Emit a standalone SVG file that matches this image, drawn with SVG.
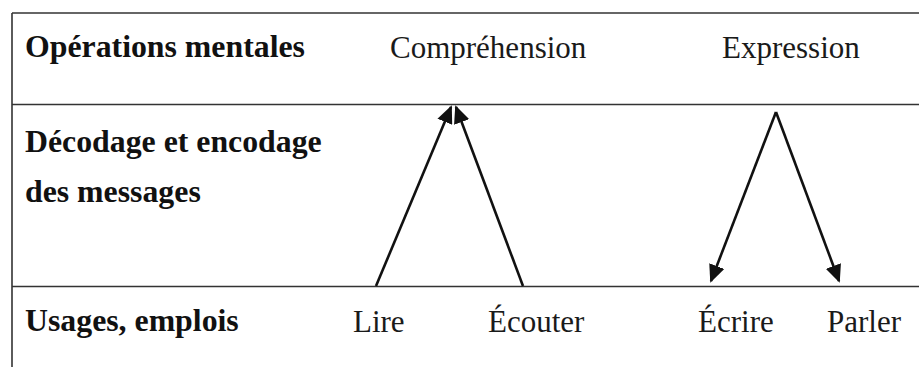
<svg xmlns="http://www.w3.org/2000/svg" width="919" height="367" viewBox="0 0 919 367">
<defs>
<style>
.b{font-family:"Liberation Serif","Times New Roman",serif;font-weight:bold;font-size:31.8px;fill:#111}
.r{font-family:"Liberation Serif","Times New Roman",serif;font-size:31px;fill:#1a1a1a}
.grid{stroke:#333;stroke-width:1.6;fill:none}
.arr{stroke:#111;stroke-width:2.6;fill:none;marker-end:url(#ah)}
</style>
<marker id="ah" markerUnits="userSpaceOnUse" markerWidth="18" markerHeight="16" viewBox="0 0 18 16" refX="16" refY="8" orient="auto">
<path d="M0,0 L18,8 L0,16 Z" fill="#111"/>
</marker>
</defs>
<rect width="919" height="367" fill="#fff"/>
<g id="table">
<line class="grid" x1="12" y1="13" x2="919" y2="13"/>
<line class="grid" x1="12" y1="104.5" x2="919" y2="104.5"/>
<line class="grid" x1="12" y1="286.5" x2="919" y2="286.5"/>
<line class="grid" x1="12" y1="13" x2="12" y2="367"/>
</g>
<g id="row-labels">
<text class="b" x="25" y="57">Opérations mentales</text>
<text class="b" x="25" y="152">Décodage et encodage</text>
<text class="b" x="25" y="202">des messages</text>
<text class="b" x="25" y="331">Usages, emplois</text>
</g>
<g id="comprehension"><text class="r" x="390" y="58">Compréhension</text></g>
<g id="expression"><text class="r" x="722" y="58">Expression</text></g>
<g id="lire"><text class="r" x="353" y="332">Lire</text></g>
<g id="ecouter"><text class="r" x="488" y="332">Écouter</text></g>
<g id="ecrire"><text class="r" x="698" y="332">Écrire</text></g>
<g id="parler"><text class="r" x="827" y="332">Parler</text></g>
<g id="connectors">
<line class="arr" x1="376" y1="286" x2="451" y2="107"/>
<line class="arr" x1="523" y1="286" x2="456" y2="107"/>
<line class="arr" x1="776" y1="112" x2="711" y2="281"/>
<line class="arr" x1="776" y1="112" x2="839" y2="281"/>
</g>
</svg>
